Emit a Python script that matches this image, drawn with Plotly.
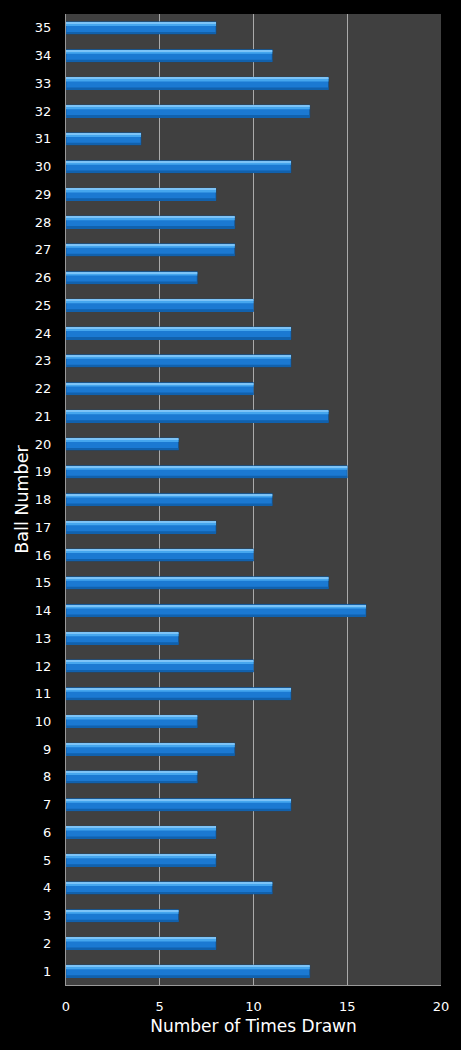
import plotly.graph_objects as go

# ball numbers and how often each was drawn
balls = [1, 2, 3, 4, 5, 6, 7, 8, 9, 10, 11, 12, 13, 14, 15, 16, 17, 18,
         19, 20, 21, 22, 23, 24, 25, 26, 27, 28, 29, 30, 31, 32, 33, 34, 35]
times_drawn = [13, 8, 6, 11, 8, 8, 12, 7, 9, 7, 12, 10, 6, 16, 14, 10, 8, 11,
               15, 6, 14, 10, 12, 12, 10, 7, 9, 9, 8, 12, 4, 13, 14, 11, 8]
x_ticks = [0, 5, 10, 15, 20]

font = "DejaVu Sans, Verdana, sans-serif"

fig = go.Figure()
# main bar body
fig.add_trace(go.Bar(x=times_drawn, y=balls, orientation="h",
                     width=0.44, offset=-0.22,
                     marker=dict(color="#1b79d2",
                                 line=dict(color="#0e4f8c", width=0.6)),
                     hoverinfo="x+y"))
# lighter band near the top to fake the bevel
fig.add_trace(go.Bar(x=times_drawn, y=balls, orientation="h",
                     width=0.12, offset=0.07,
                     marker=dict(color="#45a6ee", line=dict(width=0)),
                     hoverinfo="skip"))
fig.add_trace(go.Bar(x=times_drawn, y=balls, orientation="h",
                     width=0.04, offset=0.16,
                     marker=dict(color="#7cc3f7", line=dict(width=0)),
                     hoverinfo="skip"))
# darker band at the bottom
fig.add_trace(go.Bar(x=times_drawn, y=balls, orientation="h",
                     width=0.07, offset=-0.215,
                     marker=dict(color="#1161ad", line=dict(width=0)),
                     hoverinfo="skip"))

fig.update_layout(
    width=461, height=1050,
    barmode="overlay",
    showlegend=False,
    paper_bgcolor="black",
    plot_bgcolor="#404040",
    margin=dict(l=66, r=20, t=14, b=65),
    font=dict(family=font, color="white", size=13),
    xaxis=dict(range=[0, 20], tickvals=x_ticks, showgrid=True,
               gridcolor="#aaaaaa", gridwidth=1, zeroline=False,
               showline=True, linecolor="#999999", linewidth=1,
               ticks="outside", ticklen=9, tickcolor="black",
               title=dict(text="Number of Times Drawn", standoff=7,
                          font=dict(size=17, family=font, color="white")),
               fixedrange=True),
    yaxis=dict(range=[0.5, 35.5], tickvals=balls, showgrid=False,
               zeroline=False, showline=True, linecolor="#999999",
               linewidth=1, ticks="outside", ticklen=11, tickcolor="black",
               title=dict(text="Ball Number", standoff=1,
                          font=dict(size=17.5, family=font, color="white")),
               fixedrange=True),
)

fig.write_html("out.html", config={"displayModeBar": False},
               post_script="document.body.style.margin='0';"
                           "document.body.style.background='black';")
